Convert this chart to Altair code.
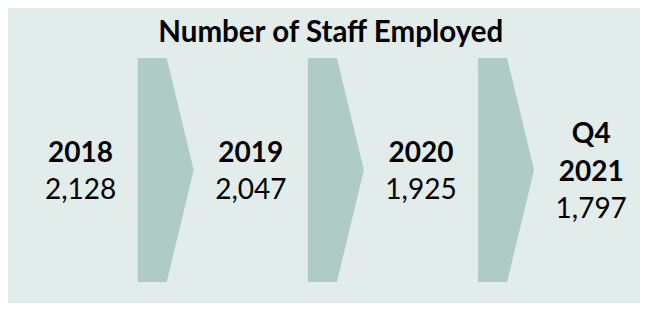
import altair as alt
import pandas as pd

title_text = "Number of Staff Employed"
periods = ["2018", "2019", "2020", "2021"]
prefixes = ["", "", "", "Q4"]
staff = [2128, 2047, 1925, 1797]
arrows_between = [0.5, 1.5, 2.5]

PANEL = "#E2ECEA"
ARROW = "#AFCBC5"
FONT = "Lato"

rows = []
for i, (p, pre, v) in enumerate(zip(periods, prefixes, staff)):
    lines = ([(pre, "bold")] if pre else []) + [(p, "bold"), (f"{v:,}", "normal")]
    n = len(lines)
    for k, (t, w) in enumerate(lines):
        rows.append({"i": i, "line": k - (n - 1) / 2, "text": t, "weight": w})
text_df = pd.DataFrame(rows)
title_df = pd.DataFrame({"i": [1.47], "line": [-3.65], "text": [title_text]})
arrow_df = pd.DataFrame({"i": arrows_between, "line": [0] * len(arrows_between)})

W, H = 632, 295
xs = alt.Scale(domain=[-72.6 / 170.2, (W - 72.6) / 170.2], nice=False, zero=False)
ys = alt.Scale(domain=[-162 / 37.5, (H - 162) / 37.5], nice=False, zero=False, reverse=True)

chevron = "M-0.25,-1L0.009,-1L0.25,0L0.009,1L-0.25,1Z"

arrows = alt.Chart(arrow_df).mark_point(
    shape=chevron, filled=True, fill=ARROW, opacity=1, strokeWidth=0, size=50176
).encode(
    x=alt.X("i:Q", scale=xs, axis=None),
    y=alt.Y("line:Q", scale=ys, axis=None),
)

def text_layer(df, weight, size, dy):
    return alt.Chart(df).mark_text(
        font=FONT, fontWeight=weight, fontSize=size, color="#000000",
        baseline="middle", dy=dy,
    ).encode(
        x=alt.X("i:Q", scale=xs, axis=None),
        y=alt.Y("line:Q", scale=ys, axis=None),
        text="text:N",
    )

chart = alt.layer(
    arrows,
    text_layer(text_df[text_df.weight == "bold"], "bold", 28, 2.5),
    text_layer(text_df[text_df.weight == "normal"], "normal", 28, 2.5),
    text_layer(title_df, "bold", 29.5, 0),
).properties(
    width=W,
    height=H,
    background=PANEL,
    padding=0,
    autosize=alt.AutoSizeParams(type="none"),
).configure_view(stroke=None)

chart.save("out.html", embed_options={"renderer": "svg", "actions": False})
